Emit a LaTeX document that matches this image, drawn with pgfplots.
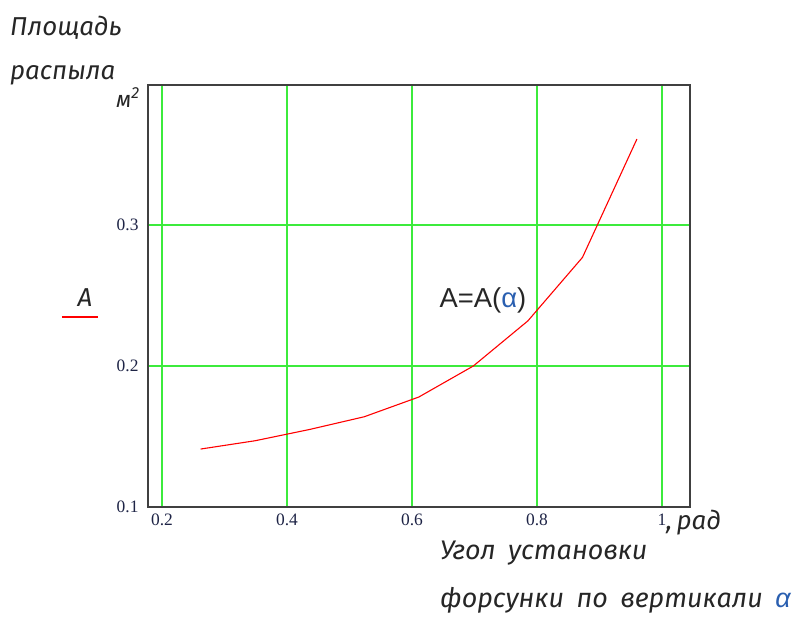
\documentclass[border=0pt]{standalone}
\usepackage{pgfplots}
\pgfplotsset{compat=1.18}
\usepackage{fontspec}
\setmainfont{Liberation Serif}
\newfontfamily\gost{Fira Sans}[WordSpace=1.8]
\newfontfamily\arial{Liberation Sans}
\definecolor{gridgreen}{HTML}{3CEB3C}
\definecolor{framegray}{HTML}{404040}
\definecolor{ticknavy}{HTML}{1E2446}
\definecolor{alphablue}{HTML}{2A5FB0}
\begin{document}
\begin{tikzpicture}[x=1bp,y=1bp]
\path[use as bounding box] (-148,-112) rectangle (651,507);
\begin{axis}[
  at={(0,0)}, anchor=south west,
  scale only axis, width=542bp, height=422bp,
  xmin=0.1776, xmax=1.0448, ymin=0.1, ymax=0.3993,
  xtick={0.2,0.4,0.6,0.8,1}, ytick={0.1,0.2,0.3},
  xticklabels={0.2,0.4,0.6,0.8,1}, yticklabels={0.1,0.2,0.3},
  grid=major,
  major grid style={draw=gridgreen, line width=1.6bp},
  axis line style={draw=framegray, line width=1.3bp},
  major tick length=0pt,
  tick label style={font=\fontsize{17.5}{20}\selectfont, text=ticknavy},
  xticklabel style={yshift=-3bp},
  yticklabel style={xshift=-6bp},
]
\addplot[red, line width=1.1bp] coordinates {
  (0.2618,0.1411) (0.3491,0.1470) (0.4363,0.1550) (0.5236,0.1640)
  (0.6109,0.1780) (0.6981,0.2000) (0.7854,0.2320) (0.8727,0.2770)
  (0.9599,0.3610)
};
\node[font=\arial\fontsize{27.5}{31}\selectfont, text=black!85] at (axis cs:0.7136,0.2468)
  {A=A(\textcolor{alphablue}{α})};
\end{axis}
% outer labels
\node[anchor=west, font=\gost\itshape\fontsize{26}{30}\selectfont, text=black!85, inner sep=0pt] at (-138,479) {Площадь};
\node[anchor=west, font=\gost\itshape\fontsize{26}{30}\selectfont, text=black!85, inner sep=0pt] at (-138,432) {распыла};
\node[anchor=east, font=\gost\itshape\fontsize{23}{26}\selectfont, text=black!85, inner sep=1bp] at (-7,409) {м\textsuperscript{2}};
\node[font=\gost\itshape\fontsize{26}{30}\selectfont, text=black!85] at (-63,209) {A};
\draw[red, line width=1.2bp] (-86,190) -- (-50,190);
\node[anchor=west, font=\gost\itshape\fontsize{26}{30}\selectfont, text=black!85, inner sep=0pt] at (518,-16) {,\,рад};
\node[anchor=west, font=\gost\itshape\fontsize{27}{32}\selectfont, text=black!85, inner sep=0pt] at (292,-46) {Угол установки};
\node[anchor=west, font=\gost\itshape\fontsize{27}{32}\selectfont, text=black!85, inner sep=0pt] at (292,-93) {форсунки по вертикали \textcolor{alphablue}{\arial α}};
\end{tikzpicture}
\end{document}
